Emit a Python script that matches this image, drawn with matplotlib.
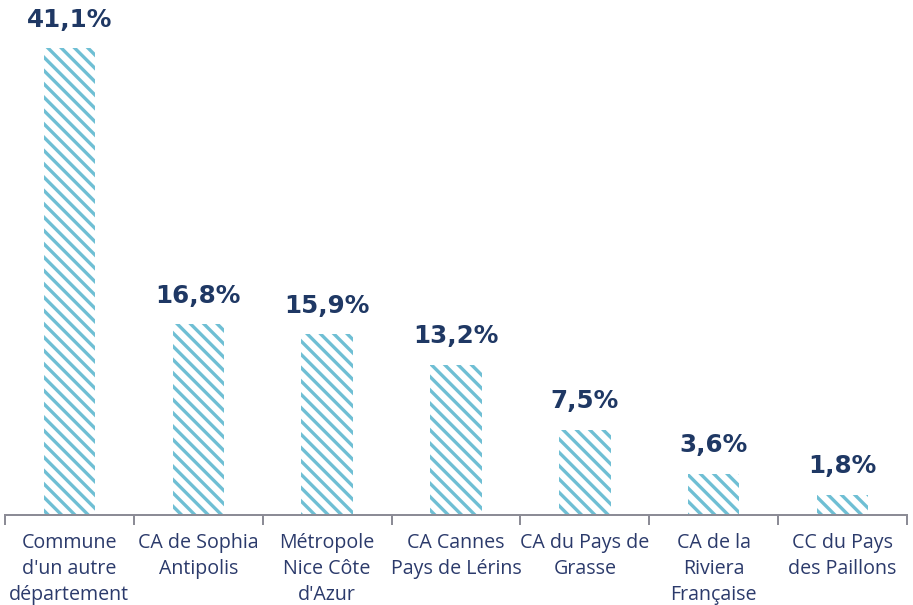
import numpy as np
import matplotlib.pyplot as plt

categories = [
    "Commune\nd'un autre\ndépartement",
    "CA de Sophia\nAntipolis",
    "Métropole\nNice Côte\nd'Azur",
    "CA Cannes\nPays de Lérins",
    "CA du Pays de\nGrasse",
    "CA de la\nRiviera\nFrançaise",
    "CC du Pays\ndes Paillons",
]
values = [41.1, 16.8, 15.9, 13.2, 7.5, 3.6, 1.8]
value_labels = ["41,1%", "16,8%", "15,9%", "13,2%", "7,5%", "3,6%", "1,8%"]

navy = "#1F3864"
axis_grey = "#8C8C96"

# dpi 120 so the hatch repeats about every 6-7 px like the original
DPI = 120
plt.rcParams["hatch.linewidth"] = 2.0

fig = plt.figure(figsize=(913 / DPI, 605 / DPI), dpi=DPI)
ax = fig.add_axes([5 / 913, 90 / 605, 902 / 913, 511 / 605])

x = np.arange(len(values))
ax.bar(x, values, width=0.4, facecolor="white", edgecolor="#6FBFD4",
       hatch="\\\\\\", linewidth=0)

for xi, v, lab in zip(x, values, value_labels):
    ax.annotate(lab, (xi, v), xytext=(0, 10), textcoords="offset points",
                ha="center", va="bottom", fontsize=14.8, fontweight="bold",
                color=navy, family="DejaVu Sans")

ax.set_xlim(-0.5, len(values) - 0.5)
ax.set_ylim(0, 45)
ax.set_xticks(x)
ax.set_xticklabels(categories, fontsize=11.8, color="#2B3A6B", family="Open Sans",
                   linespacing=1.4)
ax.tick_params(axis="x", which="major", length=0, pad=11)
ax.set_xticks(np.arange(-0.5, len(values)), minor=True)
ax.tick_params(axis="x", which="minor", length=6, width=1.2, color=axis_grey)
ax.set_yticks([])
for side in ("top", "right", "left"):
    ax.spines[side].set_visible(False)
ax.spines["bottom"].set_color(axis_grey)
ax.spines["bottom"].set_linewidth(1.2)

fig.savefig("out.png", dpi=DPI)
